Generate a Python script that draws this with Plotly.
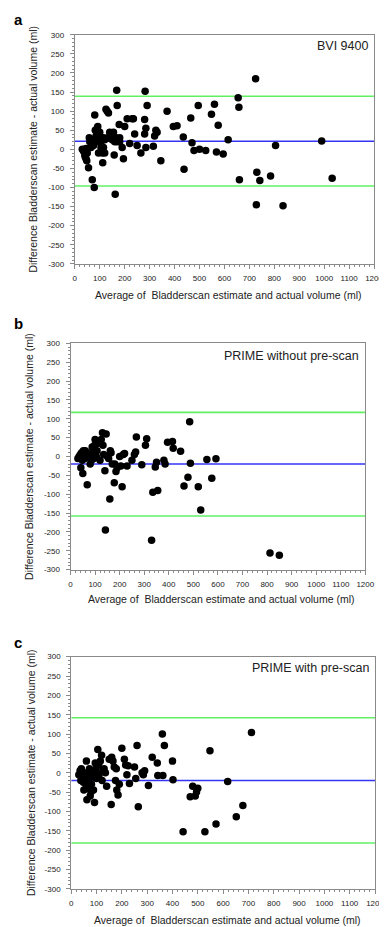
import plotly.graph_objects as go

W, H = 387, 927

# ---------------- data ----------------
a_x = [30, 35, 40, 42, 45, 48, 50, 45, 55, 58, 60, 65, 70, 70, 75, 78, 80, 80, 82, 85, 88, 90, 92, 95, 95,
       97, 100, 100, 105, 105, 108, 110, 112, 115, 115, 120, 120, 125, 130, 132, 135, 140, 140, 150, 155, 158,
       160, 162, 165, 168, 170, 170, 175, 178, 180, 180, 190, 195, 200, 210, 220, 230, 235, 240, 250, 265,
       280, 280, 282, 285, 285, 290, 315, 320, 325, 330, 345, 370, 395, 410, 435, 438, 465, 470, 478, 495,
       500, 525, 548, 560, 568, 575, 595, 615, 655, 658, 660, 725, 728, 730, 742, 785, 805, 835, 990, 1032]
a_y = [0, -5, -15, -20, -25, -30, -10, 2, -48, 30, 20, 5, -80, 15, 10, -100, 90, 25, 50, 35, 20, 55, 60, -10, 25,
       40, 45, 30, 5, 20, 0, -10, -35, 5, 30, -10, 25, 105, 100, 30, 95, 45, 30, 25, 45, -15,
       20, -118, 30, 155, 115, 20, 25, 65, 20, 30, 5, -25, 60, 80, 15, 80, 80, 40, 10, -10,
       78, 40, 152, 55, 5, 115, 8, 35, 50, 45, -30, 100, 60, 62, 32, -52, 82, 17, -3, 115,
       0, -3, 92, 118, -7, 63, -12, 25, 135, 110, -80, 185, -145, -60, -82, -70, 10, -148, 22, -76]
a_mean, a_upper, a_lower = 21, 139, -96

b_x = [30, 35, 40, 42, 45, 48, 50, 52, 55, 58, 60, 65, 68, 70, 75, 80, 85, 88, 90, 92, 95, 98, 100, 105,
       108, 110, 115, 120, 125, 130, 132, 135, 140, 142, 145, 150, 155, 160, 162, 165, 170, 178, 180, 185,
       190, 200, 205, 210, 215, 220, 230, 250, 260, 265, 268, 290, 305, 310, 330, 335, 345, 350, 355, 380,
       385, 395, 415, 418, 448, 462, 478, 485, 488, 520, 530, 555, 575, 592, 812, 850]
b_y = [-5, 0, 5, -30, 10, -10, -45, 15, 5, -5, 15, 10, -75, 0, 5, -20, -10, 25, 10, 20, -5, 30, 45, 0,
       15, 40, 35, -10, 45, 63, 30, 5, -38, -195, 60, 0, -5, -113, 15, 10, -20, -70, -20, -40,
       -30, 0, -25, -80, 5, 8, -25, -10, 5, 12, 52, -22, 30, 47, -222, -95, -28, -15, -90, -10,
       -20, 38, 40, 22, 14, -78, -55, 92, -18, -80, -142, -8, -58, -6, -256, -262]
b_mean, b_upper, b_lower = -20, 117, -158

c_x = [30, 35, 38, 40, 45, 48, 50, 52, 55, 58, 60, 62, 65, 68, 70, 72, 75, 78, 80, 82, 85, 88, 90, 92, 95,
       98, 100, 105, 108, 110, 115, 120, 122, 125, 130, 135, 140, 150, 158, 160, 165, 170, 175, 178, 180,
       185, 190, 200, 210, 215, 220, 225, 230, 250, 255, 260, 265, 280, 285, 290, 305, 320, 340, 342, 360,
       362, 368, 400, 402, 442, 470, 480, 490, 495, 500, 528, 548, 572, 618, 652, 678, 712]
c_y = [-5, 5, -20, 10, -10, -25, -45, 0, -15, -30, 30, -70, -5, -40, -20, 10, -60, -50, -30, 0, 5, -45, -10,
       -77, 25, 10, -15, 60, 20, -5, 30, 45, -20, 5, 10, 0, -35, 35, -82, 40, 30, 15, -20, 10, -45,
       -58, -30, 63, 35, 20, -5, 18, -28, 15, -15, 70, -88, 0, -5, 5, -33, 40, 25, -7, 100,
       -7, 70, 30, -18, -153, -62, -35, -60, -50, -40, -153, 57, -133, -23, -114, -85, 104]
c_mean, c_upper, c_lower = -20, 142, -182

x_ticks = [0, 100, 200, 300, 400, 500, 600, 700, 800, 900, 1000, 1100, 1200]
y_ticks = [300, 250, 200, 150, 100, 50, 0, -50, -100, -150, -200, -250, -300]

panel_letters = ["a", "b", "c"]
panel_names = ["BVI 9400", "PRIME without pre-scan", "PRIME with pre-scan"]
x_title = "Average of  Bladderscan estimate and actual volume (ml)"
y_title = "Difference Bladderscan estimate - actual volume (ml)"

# ---------------- layout geometry (pixels) ----------------
# (left, right, top, bottom) of each plotting area
boxes = [(66.7, 374.7, 23.0, 254.3),
         (62.3, 365.7, 334.7, 563.0),
         (63.0, 375.7, 651.0, 885.3)]
letter_y = [8, 315, 637]
name_y = [34, 347.7, 662.7]
xtitle_y = [286, 593, 916.5]
ytitle_x = [24, 20, 21]


def px(x):
    return x / W


def py(y):
    return 1 - y / H


FONT = "Liberation Sans, Arial, sans-serif"
GREEN = "#62f062"
BLUE = "#3434f4"
AXC = "#8a8a8a"

fig = go.Figure()
datasets = [(a_x, a_y, a_mean, a_upper, a_lower),
            (b_x, b_y, b_mean, b_upper, b_lower),
            (c_x, c_y, c_mean, c_upper, c_lower)]

annotations = []
for i, (xs, ys, m, up, lo) in enumerate(datasets):
    sfx = "" if i == 0 else str(i + 1)
    xa, ya = "x" + sfx, "y" + sfx
    for val, col in [(up, GREEN), (lo, GREEN), (m, BLUE)]:
        fig.add_trace(go.Scatter(x=[0, 1200], y=[val, val], mode="lines",
                                 line=dict(color=col, width=1.6),
                                 xaxis=xa, yaxis=ya, showlegend=False, hoverinfo="skip"))
    fig.add_trace(go.Scatter(x=xs, y=ys, mode="markers",
                             marker=dict(color="black", size=7.5, line=dict(width=0)),
                             xaxis=xa, yaxis=ya, showlegend=False))
    l, r, t, b = boxes[i]
    common = dict(showgrid=False, zeroline=False, showline=True, linecolor=AXC, linewidth=1,
                  mirror=True, ticks="outside", ticklen=4, tickcolor=AXC, tickwidth=1,
                  tickfont=dict(family=FONT, size=8, color="#222"))
    fig.layout["xaxis" + sfx] = dict(common, domain=[px(l), px(r)], range=[0, 1200],
                                     tickvals=x_ticks, ticktext=[str(v) for v in x_ticks],
                                     anchor=ya, ticklabelstandoff=3,
                                     minor=dict(dtick=20, ticklen=2, ticks="outside", tickcolor=AXC))
    fig.layout["yaxis" + sfx] = dict(common, domain=[py(b), py(t)], range=[-300, 300],
                                     tickvals=y_ticks, ticktext=[str(v) for v in y_ticks],
                                     anchor=xa, ticklabelstandoff=4,
                                     minor=dict(dtick=10, ticklen=2, ticks="outside", tickcolor=AXC))
    annotations.append(dict(text="<b>" + panel_letters[i] + "</b>", x=px(2), y=py(letter_y[i]),
                            xref="paper", yref="paper", xanchor="left", yanchor="middle",
                            showarrow=False, font=dict(family=FONT, size=15, color="black")))
    annotations.append(dict(text=panel_names[i], x=px(r - 4), y=py(name_y[i]),
                            xref="paper", yref="paper", xanchor="right", yanchor="middle",
                            showarrow=False, font=dict(family=FONT, size=12.5, color="#222")))
    annotations.append(dict(text=x_title, x=px((l + r) / 2 + 4), y=py(xtitle_y[i]),
                            xref="paper", yref="paper", xanchor="center", yanchor="middle",
                            showarrow=False, font=dict(family=FONT, size=10.5, color="#222")))
    annotations.append(dict(text=y_title, x=px(ytitle_x[i]), y=py((t + b) / 2),
                            xref="paper", yref="paper", xanchor="center", yanchor="middle",
                            textangle=-90, showarrow=False,
                            font=dict(family=FONT, size=10.5, color="#222")))

fig.update_layout(width=W, height=H, margin=dict(l=0, r=0, t=0, b=0),
                  paper_bgcolor="white", plot_bgcolor="white",
                  annotations=annotations, showlegend=False)

fig.write_html("out.html")
